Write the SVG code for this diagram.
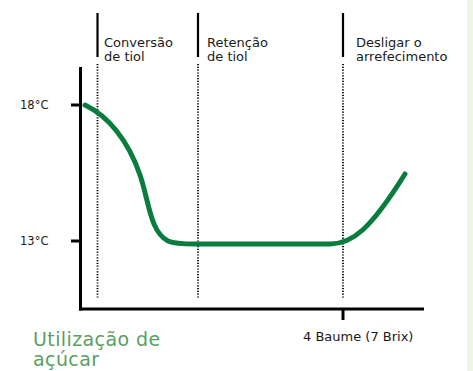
<svg xmlns="http://www.w3.org/2000/svg" width="473" height="371" viewBox="0 0 473 371">
<style>
.lbl{font-family:"DejaVu Sans","Liberation Sans",sans-serif;font-size:13px;fill:#1a1a1a}
.tick{font-family:"DejaVu Sans","Liberation Sans",sans-serif;font-size:11.5px;fill:#1a1a1a}
.green{font-family:"DejaVu Sans","Liberation Sans",sans-serif;font-size:19px;letter-spacing:0.4px;fill:#5a9e64}
.axis{stroke:#000;stroke-width:3;fill:none}
.solid{stroke:#000;stroke-width:2.2;fill:none}
.dot{stroke:#000;stroke-width:1.8;stroke-dasharray:1.2 1.6;fill:none}
</style>
<rect x="0" y="0" width="473" height="371" fill="#ffffff"/>
<rect x="467" y="0" width="6" height="371" fill="#eef5e6"/>
<g id="axes">
<line class="axis" x1="80.5" y1="67" x2="80.5" y2="310.5"/>
<line class="axis" x1="79" y1="309" x2="424" y2="309"/>
<line class="axis" x1="71" y1="105" x2="80" y2="105"/>
<line class="axis" x1="71" y1="241" x2="80" y2="241"/>
<line class="axis" x1="343" y1="309" x2="343" y2="320"/>
</g>
<g id="phase-lines">
<line class="solid" x1="97.5" y1="13" x2="97.5" y2="57"/>
<line class="dot" x1="97.5" y1="64" x2="97.5" y2="299"/>
<line class="solid" x1="198" y1="13" x2="198" y2="57"/>
<line class="dot" x1="198" y1="64" x2="198" y2="299"/>
<line class="solid" x1="343" y1="13" x2="343" y2="57"/>
<line class="dot" x1="343" y1="64" x2="343" y2="299"/>
</g>
<g id="curve">
<path d="M85,105 C108,116 128,140 140,175 C149,201 150,232 168,241 C175,244 185,244 195,244 L330,244 C352,244 370,230 405,174" fill="none" stroke="#0a7d3e" stroke-width="5" stroke-linecap="round"/>
</g>
<g id="labels">
<text class="lbl" x="104" y="47">Conversão</text>
<text class="lbl" x="104" y="61">de tiol</text>
<text class="lbl" x="207" y="47">Retenção</text>
<text class="lbl" x="207" y="61">de tiol</text>
<text class="lbl" x="356" y="47">Desligar o</text>
<text class="lbl" x="356" y="61">arrefecimento</text>
<text class="tick" x="20" y="109">18°C</text>
<text class="tick" x="20" y="245">13°C</text>
<text class="lbl" x="303" y="341" font-size="12.8">4 Baume (7 Brix)</text>
<text class="green" x="33" y="346">Utilização de</text>
<text class="green" x="33" y="366">açúcar</text>
</g>
</svg>
